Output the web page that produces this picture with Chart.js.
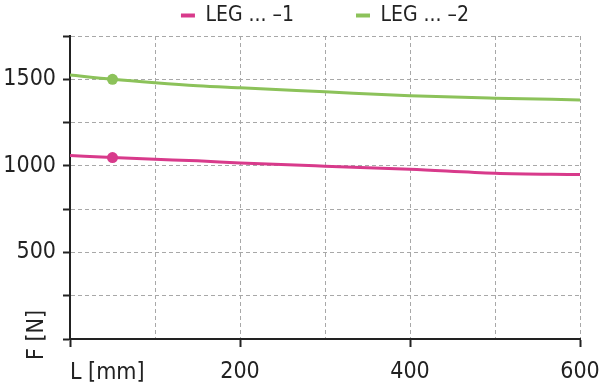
<!DOCTYPE html>
<html>
<head>
<meta charset="utf-8">
<script src="https://cdn.jsdelivr.net/npm/chart.js@4.4.1/dist/chart.umd.min.js"></script>
<style>
  html, body { margin: 0; padding: 0; background: #fff; }
  #wrap { width: 600px; height: 386px; }
</style>
</head>
<body>
<div id="wrap"><canvas id="chart"></canvas></div>
<script>
/* ── Data ── */
var lengths = [0, 50, 100, 150, 200, 300, 400, 500, 600];
var force1 = [1060, 1048, 1038, 1029, 1017, 998, 981, 958, 950];
var force2 = [1525, 1500, 1480, 1463, 1451, 1428, 1405, 1391, 1381];
var seriesNames = ['LEG ... \u20131', 'LEG ... \u20132'];
var markedLength = 50;
var xLabels = [200, 400, 600];
var yLabels = [500, 1000, 1500];
var xName = 'L [mm]';
var yName = 'F [N]';

var colours = {
    pink: '#d83a8b',
    green: '#8cc25a',
    ink: '#222222',
    grid: '#a8a8a8'
};

function points(values) {
    return lengths.map(function (l, i) { return { x: l, y: values[i] }; });
}

function markerRadius(ctx) {
    return lengths[ctx.dataIndex] === markedLength ? 5.5 : 0;
}

Chart.defaults.font.family = '"DejaVu Sans Condensed", "DejaVu Sans", sans-serif';
Chart.defaults.color = colours.ink;

/* axis names sit where the "0" labels would be */
var axisNames = {
    id: 'axisNames',
    afterDraw: function (chart) {
        var ctx = chart.ctx, xs = chart.scales.x, ys = chart.scales.y;
        ctx.save();
        ctx.fillStyle = colours.ink;
        ctx.font = '23px "DejaVu Sans Condensed", "DejaVu Sans", sans-serif';
        ctx.textBaseline = 'middle';
        ctx.textAlign = 'left';
        ctx.fillText(xName, xs.getPixelForValue(0), xs.bottom - 13);
        ctx.translate(37, ys.getPixelForValue(0) + 21);
        ctx.rotate(-Math.PI / 2);
        ctx.fillText(yName, 0, 0);
        ctx.restore();
    }
};

var legendPad = 62;

new Chart(document.getElementById('chart'), {
    type: 'line',
    data: {
        datasets: [
            {
                label: seriesNames[0],
                data: points(force1),
                borderColor: colours.pink,
                backgroundColor: colours.pink,
                borderWidth: 3,
                pointRadius: markerRadius,
                pointHoverRadius: markerRadius,
                pointBorderWidth: 0,
                cubicInterpolationMode: 'monotone'
            },
            {
                label: seriesNames[1],
                data: points(force2),
                borderColor: colours.green,
                backgroundColor: colours.green,
                borderWidth: 3,
                pointRadius: markerRadius,
                pointHoverRadius: markerRadius,
                pointBorderWidth: 0,
                cubicInterpolationMode: 'monotone'
            }
        ]
    },
    options: {
        responsive: true,
        maintainAspectRatio: false,
        animation: false,
        layout: {
            padding: { top: 5 - legendPad, left: 0, right: 20, bottom: 0 }
        },
        plugins: {
            tooltip: { enabled: false },
            legend: {
                position: 'top',
                fullSize: false,
                labels: {
                    font: { size: 21 },
                    color: colours.ink,
                    boxWidth: 14,
                    boxHeight: 4,
                    padding: legendPad,
                    generateLabels: function (chart) {
                        return Chart.defaults.plugins.legend.labels.generateLabels(chart).map(function (l) {
                            l.lineWidth = 0;
                            l.fillStyle = l.strokeStyle;
                            return l;
                        });
                    }
                }
            }
        },
        scales: {
            x: {
                type: 'linear',
                min: 0,
                max: 600,
                afterFit: function (scale) { scale.height = 47; },
                ticks: {
                    stepSize: 100,
                    autoSkip: false,
                    maxRotation: 0,
                    padding: 0,
                    font: { size: 23, lineHeight: 2.2 },
                    color: colours.ink,
                    callback: function (v) { return xLabels.indexOf(v) >= 0 ? String(v) : ''; }
                },
                grid: {
                    color: colours.grid,
                    lineWidth: 1,
                    tickLength: 8,
                    tickWidth: 2,
                    tickBorderDash: [],
                    tickColor: function (ctx) {
                        var v = ctx.tick && ctx.tick.value;
                        return (v === 0 || xLabels.indexOf(v) >= 0) ? colours.ink : 'rgba(0,0,0,0)';
                    }
                },
                border: { color: colours.ink, width: 2, dash: [4, 3] }
            },
            y: {
                min: 0,
                max: 1750,
                afterFit: function (scale) { scale.width = 70; },
                ticks: {
                    stepSize: 250,
                    autoSkip: false,
                    padding: 7,
                    font: { size: 23 },
                    color: colours.ink,
                    callback: function (v) { return yLabels.indexOf(v) >= 0 ? String(v) : ''; }
                },
                grid: {
                    color: colours.grid,
                    lineWidth: 1,
                    tickLength: 7,
                    tickWidth: 2,
                    tickBorderDash: [],
                    tickColor: colours.ink
                },
                border: { color: colours.ink, width: 2, dash: [4, 3] }
            }
        }
    },
    plugins: [axisNames]
});
</script>
</body>
</html>
